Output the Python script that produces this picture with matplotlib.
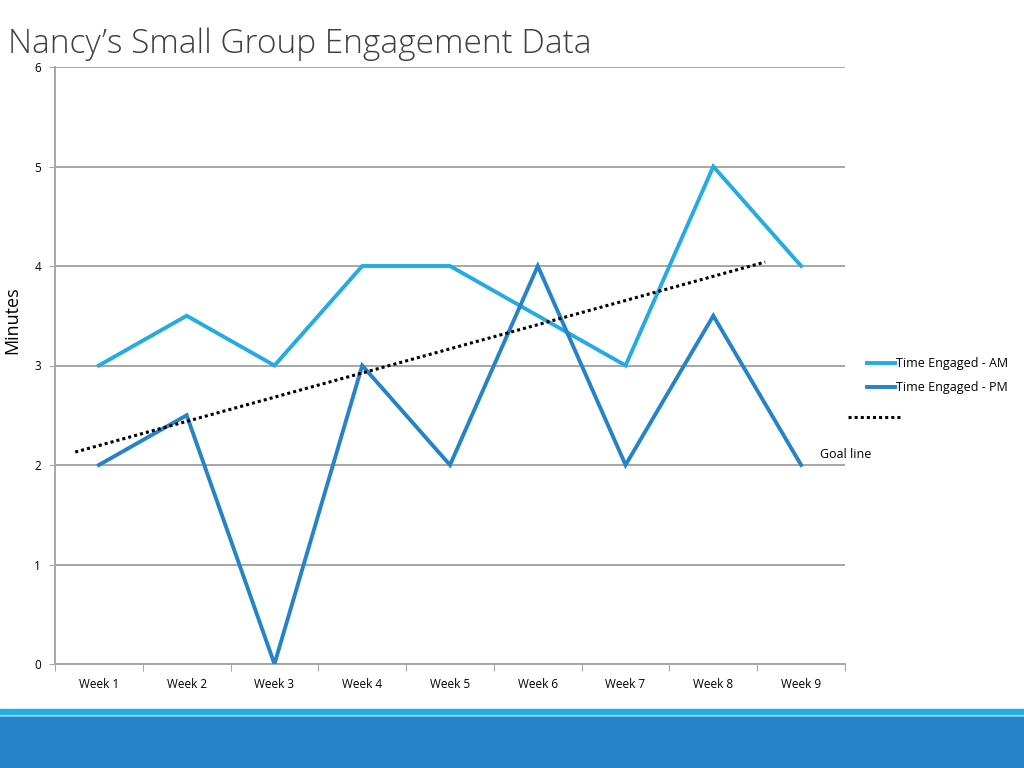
import matplotlib
matplotlib.use("Agg")
import matplotlib.pyplot as plt
from matplotlib.lines import Line2D
from matplotlib.patches import Rectangle

weeks = ["Week 1", "Week 2", "Week 3", "Week 4", "Week 5",
         "Week 6", "Week 7", "Week 8", "Week 9"]
am = [3, 3.5, 3, 4, 4, 3.5, 3, 5, 4]
pm = [2, 2.5, 0, 3, 2, 4, 2, 3.5, 2]
goal_x = [-0.27, 7.59]
goal_y = [2.13, 4.04]

AM_COL = "#24ABE2"
PM_COL = "#2683C6"
GRID = "#A6A6A6"

plt.rcParams['font.family'] = ['Open Sans', 'DejaVu Sans']

fig = plt.figure(figsize=(10.24, 7.68), dpi=100)
ax = fig.add_axes([55 / 1024, 1 - 664 / 768, 790 / 1024, 597 / 768])

xs = list(range(len(weeks)))
ax.plot(xs, am, color=AM_COL, lw=2.8, solid_joinstyle='miter', zorder=3)
ax.plot(xs, pm, color=PM_COL, lw=2.8, solid_joinstyle='miter', zorder=3)
ax.plot(goal_x, goal_y, color="black", lw=2.2, ls=(0, (1, 1)), zorder=4)

ax.set_xlim(-0.5, len(weeks) - 0.5)
ax.set_ylim(0, 6)
ax.set_yticks(range(7))
ax.tick_params(axis='y', length=4, color=GRID, labelsize=8.5, pad=6)
ax.grid(axis='y', color=GRID, lw=1.4)
ax.set_axisbelow(True)

ax.set_xticks([i - 0.5 for i in range(len(weeks) + 1)])
ax.set_xticklabels([])
ax.tick_params(axis='x', which='major', length=5, color=GRID)
ax.set_xticks(xs, minor=True)
ax.set_xticklabels(weeks, minor=True, fontsize=8.5)
ax.tick_params(axis='x', which='minor', length=0, pad=10)

for s in ['top', 'right']:
    ax.spines[s].set_visible(False)
for s in ['left', 'bottom']:
    ax.spines[s].set_color(GRID)
    ax.spines[s].set_linewidth(1.4)

fig.text(12 / 1024, 1 - 320 / 768, "Minutes", fontsize=13, rotation=90,
         ha='center', va='center')

fig.text(8 / 1024, 1 - 44 / 768, "Nancy\u2019s Small Group Engagement Data",
         fontsize=24, color="#404040", va='center', ha='left',
         fontweight='light')

handles = [Line2D([], [], color=AM_COL, lw=2.8),
           Line2D([], [], color=PM_COL, lw=2.8)]
fig.legend(handles, ["Time Engaged - AM", "Time Engaged - PM"],
           loc='upper left', bbox_to_anchor=(861 / 1024, 1 - 351 / 768),
           frameon=False, fontsize=9, handlelength=2.2, handletextpad=0.1,
           labelspacing=0.9, borderpad=0)
fig.add_artist(Line2D([848 / 1024, 903 / 1024], [1 - 417 / 768] * 2,
                      color="black", lw=2.2, ls=(0, (1, 1))))
fig.text(820 / 1024, 1 - 455 / 768, "Goal line", fontsize=9, va='center')

fig.add_artist(Rectangle((0, 0), 1, 1 - 709 / 768, transform=fig.transFigure,
                         color="#1FAEE3", zorder=0))
fig.add_artist(Rectangle((0, 1 - 717 / 768), 1, 2 / 768, transform=fig.transFigure,
                         color="#7FD3F2", zorder=1))
fig.add_artist(Rectangle((0, 0), 1, 1 - 717 / 768, transform=fig.transFigure,
                         color="#2683C6", zorder=1))

fig.savefig("out.png", dpi=100)
